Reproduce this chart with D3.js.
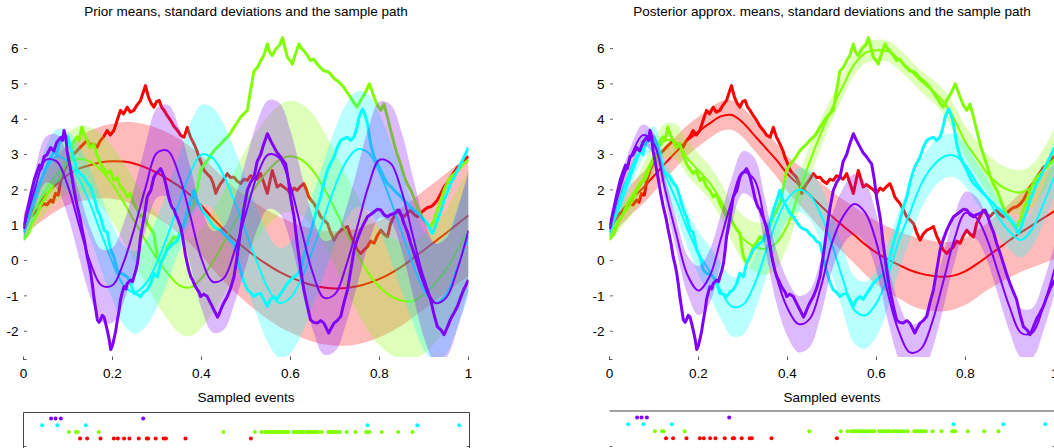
<!DOCTYPE html>
<html><head><meta charset="utf-8">
<script src="https://cdn.jsdelivr.net/npm/d3@7/dist/d3.min.js"></script>
<style>
body{margin:0;background:#fff;}
svg{display:block;}
text{font-family:"Liberation Sans",Arial,Helvetica,sans-serif;fill:#000;}
</style></head>
<body><svg id="chart" width="1054" height="448"></svg>
<script>
// ---------- DATA ----------
const seriesNames = ["red", "green", "cyan", "purple"];
const seriesColors = ["#FF0000", "#80FF00", "#00FFFF", "#8000FF"];
const titles = ["Prior means, standard deviations and the sample path",
                "Posterior approx. means, standard deviations and the sample path"];
const eventsTitle = "Sampled events";
const xTicks = [0, 0.2, 0.4, 0.6, 0.8, 1];
const xTickLabels = ["0", "0.2", "0.4", "0.6", "0.8", "1"];
const yTicks = [-2, -1, 0, 1, 2, 3, 4, 5, 6];
const yTickLabels = ["-2", "-1", "0", "1", "2", "3", "4", "5", "6"];

const gridX = [0,0.025,0.05,0.075,0.1,0.125,0.15,0.175,0.2,0.225,0.25,0.275,0.3,0.325,0.35,0.375,0.4,0.425,0.45,0.475,0.5,0.525,0.55,0.575,0.6,0.625,0.65,0.675,0.7,0.725,0.75,0.775,0.8,0.825,0.85,0.875,0.9,0.925,0.95,0.975,1];

const priorMeanRed = [1.0,1.47,1.85,2.18,2.43,2.6,2.7,2.78,2.81,2.8,2.74,2.63,2.48,2.3,2.1,1.85,1.55,1.2,0.88,0.58,0.32,0.08,-0.13,-0.32,-0.47,-0.6,-0.7,-0.76,-0.79,-0.78,-0.73,-0.64,-0.52,-0.36,-0.17,0.06,0.3,0.54,0.78,1.03,1.28];
const priorMeanGreen = [0.8,1.45,2.0,2.45,2.75,2.88,2.8,2.55,2.15,1.65,1.1,0.55,0.05,-0.38,-0.7,-0.76,-0.5,-0.05,0.5,1.1,1.65,2.15,2.55,2.85,2.95,2.85,2.55,2.05,1.45,0.8,0.2,-0.35,-0.75,-1.0,-1.13,-1.15,-0.95,-0.65,-0.25,0.3,0.86];
const priorMeanCyan = [0.8,1.7,2.55,2.95,2.8,2.3,1.6,0.75,-0.05,-0.7,-0.9,-0.65,-0.05,0.75,1.65,2.5,3.0,2.9,2.4,1.65,0.8,-0.05,-0.8,-1.2,-1.05,-0.5,0.3,1.2,2.1,2.8,3.15,3.05,2.5,1.7,0.8,-0.1,-0.85,-1.2,-0.95,-0.2,0.7];
const priorMeanPurple = [0.9,2.0,2.85,2.8,2.1,1.0,-0.05,-0.7,-0.7,-0.05,0.95,2.1,3.05,3.1,2.4,1.25,0.05,-0.6,-0.5,0.3,1.35,2.4,3.0,2.9,2.1,0.85,-0.35,-1.05,-0.95,-0.15,0.95,2.1,2.85,2.75,1.95,0.7,-0.5,-1.2,-1.05,-0.25,0.85];
const priorSd = [0.3,0.5,0.65,0.77,0.86,0.93,0.98,1.02,1.06,1.12,1.17,1.22,1.27,1.31,1.35,1.38,1.41,1.44,1.46,1.48,1.5,1.52,1.54,1.56,1.57,1.58,1.6,1.61,1.62,1.63,1.64,1.65,1.65,1.66,1.67,1.67,1.68,1.68,1.69,1.69,1.7];

const postMeanRed = [0.9,1.35,1.75,2.05,2.4,2.75,3.08,3.4,3.65,3.88,4.08,4.12,3.9,3.55,3.2,2.85,2.45,2.15,1.85,1.55,1.25,0.98,0.72,0.45,0.22,0.03,-0.12,-0.27,-0.37,-0.43,-0.46,-0.42,-0.3,-0.1,0.12,0.35,0.58,0.8,1.0,1.2,1.4];
const postSdRed = [0.25,0.35,0.43,0.45,0.45,0.45,0.44,0.43,0.42,0.42,0.42,0.42,0.42,0.43,0.45,0.47,0.5,0.55,0.6,0.65,0.7,0.75,0.8,0.85,0.9,0.93,0.95,0.98,1.0,0.99,0.98,0.96,0.95,0.95,0.95,1.0,1.05,1.12,1.2,1.28,1.35];
const postMeanGreen = [0.7,1.2,1.65,2.3,2.95,3.4,3.35,2.9,2.55,2.2,1.7,1.1,0.62,0.4,0.33,0.5,1.0,1.9,2.8,3.6,4.3,4.95,5.55,5.88,5.95,5.93,5.7,5.4,5.08,4.82,4.5,4.0,3.35,2.9,2.45,2.15,1.98,1.93,2.1,2.55,3.15];
const postSdGreen = [0.2,0.28,0.35,0.4,0.45,0.48,0.5,0.5,0.48,0.48,0.5,0.57,0.65,0.7,0.75,0.72,0.6,0.52,0.45,0.4,0.35,0.32,0.3,0.3,0.3,0.3,0.3,0.3,0.3,0.32,0.35,0.4,0.45,0.5,0.55,0.6,0.62,0.63,0.62,0.61,0.6];
const postMeanCyan = [0.8,1.6,2.45,3.2,3.45,2.45,1.7,0.9,0.2,-0.3,-0.85,-1.3,-1.25,-0.7,0.2,1.1,1.75,2.0,1.85,1.3,0.45,-0.55,-1.4,-1.55,-1.2,-0.45,0.55,1.35,2.15,2.65,2.93,2.97,2.7,2.2,1.75,1.2,0.8,0.58,0.9,1.6,2.4];
const postSdCyan = [0.2,0.25,0.3,0.33,0.35,0.4,0.45,0.52,0.6,0.7,0.8,0.85,0.85,0.8,0.75,0.68,0.6,0.62,0.7,0.78,0.85,0.9,0.95,0.95,0.95,0.9,0.85,0.78,0.7,0.65,0.62,0.61,0.6,0.58,0.55,0.52,0.5,0.5,0.5,0.55,0.6];
const postMeanPurple = [0.9,2.1,3.0,3.55,3.3,2.0,0.75,-0.4,-0.85,-0.45,0.6,1.7,2.5,2.3,1.0,-0.45,-1.35,-1.8,-1.65,-0.75,0.5,1.25,1.6,1.35,0.5,-0.9,-2.0,-2.6,-2.5,-1.75,-0.6,0.6,1.35,1.2,0.55,-0.4,-1.35,-2.05,-2.05,-1.3,-0.25];
const postSdPurple = [0.2,0.25,0.3,0.3,0.3,0.35,0.45,0.55,0.7,0.75,0.7,0.65,0.6,0.62,0.7,0.75,0.8,0.8,0.8,0.8,0.78,0.8,0.85,0.85,0.8,0.78,0.8,0.8,0.8,0.78,0.75,0.68,0.6,0.6,0.6,0.65,0.7,0.7,0.7,0.7,0.7];

// sample paths: [t, value]
const pathRed = [[0,1.0],[0.01,1.15],[0.02,1.3],[0.031,1.42],[0.04,1.55],[0.046,1.61],[0.053,1.58],[0.061,1.71],[0.066,1.65],[0.072,1.9],[0.078,1.85],[0.084,2.27],[0.091,2.55],[0.098,2.74],[0.105,2.85],[0.113,3.02],[0.12,3.1],[0.128,3.21],[0.135,3.3],[0.143,3.4],[0.15,3.25],[0.158,3.3],[0.165,3.2],[0.173,3.4],[0.18,3.5],[0.188,3.68],[0.195,3.55],[0.203,3.68],[0.21,3.95],[0.218,4.25],[0.225,4.15],[0.233,4.34],[0.24,4.2],[0.248,4.25],[0.255,4.4],[0.263,4.53],[0.27,4.8],[0.274,4.95],[0.281,4.62],[0.287,4.45],[0.293,4.34],[0.299,4.5],[0.305,4.53],[0.31,4.35],[0.316,4.25],[0.323,4.1],[0.331,3.96],[0.338,3.8],[0.346,3.68],[0.353,3.55],[0.361,3.49],[0.368,3.77],[0.375,3.5],[0.383,3.3],[0.39,3.1],[0.394,2.93],[0.4,2.75],[0.406,2.55],[0.413,2.45],[0.42,2.36],[0.426,2.2],[0.432,1.9],[0.437,2.05],[0.443,2.18],[0.45,2.3],[0.458,2.46],[0.465,2.35],[0.473,2.36],[0.48,2.25],[0.488,2.18],[0.495,2.3],[0.503,2.27],[0.51,2.4],[0.518,2.36],[0.525,2.3],[0.533,2.46],[0.54,2.2],[0.548,1.9],[0.553,2.2],[0.559,2.55],[0.565,2.3],[0.57,2.08],[0.578,2.15],[0.585,2.08],[0.593,2.0],[0.6,1.9],[0.608,2.05],[0.615,1.99],[0.623,2.1],[0.63,2.18],[0.636,2.0],[0.641,1.8],[0.647,1.7],[0.653,1.61],[0.66,1.45],[0.668,1.24],[0.675,1.15],[0.683,1.05],[0.69,0.8],[0.698,0.58],[0.705,0.75],[0.713,0.86],[0.72,0.9],[0.728,0.96],[0.735,0.7],[0.743,0.49],[0.75,0.3],[0.758,0.2],[0.765,0.3],[0.773,0.39],[0.78,0.55],[0.788,0.49],[0.795,0.7],[0.803,0.86],[0.81,0.75],[0.818,0.67],[0.825,1.05],[0.833,1.25],[0.84,1.43],[0.848,1.3],[0.855,1.24],[0.863,1.35],[0.87,1.43],[0.878,1.3],[0.885,1.24],[0.893,1.35],[0.9,1.43],[0.908,1.5],[0.915,1.52],[0.923,1.6],[0.93,1.71],[0.938,1.9],[0.945,2.08],[0.953,2.2],[0.96,2.36],[0.968,2.5],[0.975,2.64],[0.983,2.7],[0.99,2.83],[1.0,2.95]];
const pathGreen = [[0,0.6],[0.01,0.75],[0.02,1.1],[0.03,1.3],[0.04,1.6],[0.05,1.8],[0.06,2.0],[0.07,2.2],[0.08,2.3],[0.09,2.6],[0.1,2.9],[0.105,2.75],[0.11,3.3],[0.12,3.5],[0.125,3.4],[0.131,3.77],[0.137,3.55],[0.143,3.4],[0.15,3.2],[0.158,3.3],[0.165,3.0],[0.173,2.74],[0.18,2.6],[0.188,2.46],[0.195,2.55],[0.203,2.27],[0.21,2.35],[0.218,2.08],[0.225,2.0],[0.233,1.8],[0.24,1.9],[0.248,1.61],[0.255,1.45],[0.263,1.24],[0.27,1.3],[0.278,1.05],[0.285,0.9],[0.293,0.77],[0.297,0.4],[0.301,0.11],[0.308,-0.08],[0.316,0.1],[0.323,0.39],[0.33,0.5],[0.338,0.67],[0.345,0.6],[0.353,0.86],[0.36,1.0],[0.368,1.24],[0.375,1.4],[0.383,1.61],[0.391,2.08],[0.398,2.55],[0.405,2.7],[0.413,2.83],[0.42,2.95],[0.428,3.11],[0.435,3.2],[0.443,3.3],[0.45,3.4],[0.458,3.49],[0.465,3.6],[0.473,3.77],[0.48,3.9],[0.488,4.06],[0.495,4.15],[0.503,4.25],[0.51,4.8],[0.518,5.37],[0.525,5.45],[0.533,5.66],[0.54,5.8],[0.548,6.13],[0.553,5.9],[0.559,5.8],[0.565,5.95],[0.57,6.03],[0.576,6.1],[0.582,6.31],[0.588,6.0],[0.593,5.75],[0.6,5.65],[0.604,5.56],[0.61,5.8],[0.619,6.13],[0.625,6.0],[0.63,5.94],[0.638,5.8],[0.645,5.66],[0.652,5.7],[0.66,5.56],[0.668,5.45],[0.675,5.37],[0.683,5.35],[0.69,5.28],[0.698,5.15],[0.705,5.09],[0.713,5.0],[0.72,4.9],[0.728,4.75],[0.735,4.62],[0.743,4.45],[0.75,4.34],[0.756,4.5],[0.762,4.62],[0.77,4.8],[0.777,5.0],[0.783,4.8],[0.788,4.62],[0.795,4.4],[0.803,4.25],[0.81,4.43],[0.818,4.06],[0.823,3.8],[0.829,3.5],[0.835,3.2],[0.84,3.0],[0.848,2.7],[0.855,2.4],[0.863,2.15],[0.87,2.0],[0.878,1.75],[0.885,1.5],[0.893,1.3],[0.9,1.15],[0.908,1.0],[0.915,0.95],[0.923,1.15],[0.93,1.43],[0.938,1.7],[0.945,1.99],[0.953,2.2],[0.96,2.36],[0.968,2.45],[0.975,2.55],[0.983,2.65],[0.99,2.75],[1.0,2.85]];
const pathCyan = [[0,0.8],[0.01,1.2],[0.02,1.6],[0.03,2.0],[0.04,2.3],[0.05,2.6],[0.06,2.9],[0.07,3.1],[0.075,3.0],[0.08,3.3],[0.089,3.55],[0.095,3.4],[0.1,3.5],[0.105,3.21],[0.113,2.9],[0.121,2.55],[0.128,2.45],[0.136,2.36],[0.143,2.2],[0.151,2.08],[0.158,1.8],[0.166,1.43],[0.173,1.24],[0.181,0.86],[0.188,0.8],[0.196,0.3],[0.203,0.11],[0.211,-0.27],[0.218,-0.36],[0.226,-0.4],[0.233,-0.46],[0.24,-0.6],[0.248,-0.93],[0.255,-0.95],[0.263,-1.02],[0.27,-0.9],[0.278,-0.83],[0.286,-0.65],[0.293,-0.36],[0.301,-0.46],[0.308,-0.08],[0.315,0.1],[0.323,0.3],[0.33,0.4],[0.338,0.49],[0.345,0.55],[0.349,0.67],[0.355,0.8],[0.361,1.05],[0.368,1.4],[0.376,1.71],[0.383,1.99],[0.39,1.7],[0.398,1.52],[0.405,1.35],[0.413,1.24],[0.42,1.1],[0.428,0.96],[0.435,0.9],[0.443,0.86],[0.45,0.75],[0.458,0.67],[0.465,0.55],[0.473,0.49],[0.48,0.1],[0.488,-0.3],[0.495,-0.6],[0.503,-0.83],[0.51,-0.9],[0.518,-1.02],[0.525,-0.95],[0.533,-0.93],[0.54,-1.1],[0.548,-1.3],[0.555,-1.1],[0.563,-1.02],[0.57,-1.1],[0.578,-0.93],[0.585,-0.8],[0.593,-0.65],[0.6,-0.55],[0.608,-0.46],[0.615,-0.4],[0.623,-0.27],[0.63,0.1],[0.638,0.49],[0.645,0.8],[0.653,1.15],[0.66,1.5],[0.668,1.8],[0.675,2.2],[0.683,2.55],[0.69,2.75],[0.698,2.93],[0.705,3.2],[0.713,3.4],[0.72,3.45],[0.728,3.49],[0.735,3.4],[0.743,3.5],[0.75,3.8],[0.754,4.06],[0.762,4.29],[0.768,4.1],[0.773,3.87],[0.78,3.3],[0.788,2.93],[0.795,2.75],[0.803,2.55],[0.81,2.35],[0.818,2.18],[0.825,2.1],[0.833,1.99],[0.84,1.9],[0.848,1.8],[0.855,1.7],[0.863,1.61],[0.87,1.5],[0.878,1.43],[0.885,1.35],[0.893,1.24],[0.9,1.15],[0.908,1.05],[0.915,0.85],[0.919,0.77],[0.925,0.95],[0.93,1.15],[0.938,1.4],[0.945,1.71],[0.953,1.95],[0.96,2.18],[0.968,2.35],[0.975,2.55],[0.983,2.75],[0.99,2.93],[1.0,3.2]];
const pathPurple = [[0,0.9],[0.01,1.5],[0.017,1.9],[0.024,2.27],[0.03,2.5],[0.036,2.7],[0.04,2.6],[0.046,2.93],[0.053,3.0],[0.061,3.2],[0.068,3.1],[0.075,3.35],[0.084,3.49],[0.088,3.4],[0.091,3.68],[0.095,3.5],[0.098,3.1],[0.104,2.7],[0.11,2.27],[0.115,1.9],[0.121,1.52],[0.127,1.2],[0.132,0.86],[0.138,0.5],[0.143,0.11],[0.147,-0.1],[0.151,-0.35],[0.155,-0.7],[0.158,-1.02],[0.162,-1.35],[0.166,-1.68],[0.17,-1.75],[0.173,-1.68],[0.177,-1.55],[0.181,-1.6],[0.185,-1.8],[0.188,-1.96],[0.192,-2.2],[0.196,-2.52],[0.2,-2.4],[0.203,-2.24],[0.207,-2.0],[0.211,-1.68],[0.215,-1.4],[0.218,-1.11],[0.222,-0.9],[0.226,-0.74],[0.23,-0.8],[0.233,-0.65],[0.237,-0.6],[0.241,-0.55],[0.245,-0.6],[0.248,-0.46],[0.252,-0.3],[0.256,-0.08],[0.26,0.3],[0.263,0.67],[0.267,0.95],[0.271,1.24],[0.275,1.55],[0.278,1.8],[0.282,1.9],[0.286,1.98],[0.29,2.2],[0.293,2.36],[0.297,2.45],[0.301,2.5],[0.305,2.55],[0.308,2.6],[0.312,2.5],[0.316,2.36],[0.32,2.15],[0.323,1.99],[0.327,1.75],[0.331,1.6],[0.334,1.5],[0.338,1.45],[0.342,1.3],[0.346,1.2],[0.35,1.05],[0.353,0.96],[0.357,0.7],[0.361,0.39],[0.364,0.15],[0.368,-0.08],[0.372,-0.3],[0.376,-0.46],[0.38,-0.55],[0.383,-0.65],[0.387,-0.75],[0.391,-0.83],[0.395,-0.9],[0.398,-1.02],[0.405,-0.95],[0.413,-1.02],[0.42,-1.2],[0.428,-1.4],[0.432,-1.5],[0.436,-1.6],[0.44,-1.5],[0.443,-1.4],[0.45,-1.2],[0.458,-1.02],[0.465,-0.8],[0.473,-0.46],[0.48,0.1],[0.488,0.86],[0.495,1.45],[0.503,1.99],[0.51,2.2],[0.518,2.36],[0.525,2.8],[0.533,3.0],[0.54,3.3],[0.548,3.59],[0.555,3.4],[0.563,3.21],[0.57,3.05],[0.578,2.93],[0.585,2.8],[0.589,2.74],[0.595,2.3],[0.6,1.8],[0.608,1.24],[0.615,0.49],[0.623,-0.27],[0.63,-0.83],[0.638,-1.3],[0.645,-1.68],[0.652,-1.75],[0.66,-1.77],[0.668,-1.7],[0.675,-1.77],[0.68,-1.9],[0.686,-2.05],[0.692,-1.9],[0.698,-1.77],[0.705,-1.7],[0.713,-1.58],[0.72,-1.2],[0.728,-0.83],[0.735,-0.3],[0.743,0.3],[0.75,0.6],[0.758,0.86],[0.765,1.05],[0.773,1.24],[0.78,1.3],[0.788,1.38],[0.795,1.45],[0.803,1.43],[0.81,1.3],[0.818,1.24],[0.825,1.3],[0.833,1.33],[0.84,1.4],[0.844,1.43],[0.85,1.25],[0.855,1.05],[0.863,0.8],[0.87,0.49],[0.878,0.2],[0.885,-0.08],[0.893,-0.4],[0.9,-0.65],[0.908,-0.9],[0.915,-1.11],[0.922,-1.5],[0.93,-1.87],[0.938,-1.96],[0.945,-2.1],[0.952,-1.9],[0.96,-1.65],[0.967,-1.49],[0.975,-1.3],[0.983,-1.02],[0.99,-0.8],[1.0,-0.55]];

// sampled event times per series
const eventsPurple = [0.062,0.072,0.084,0.269];
const eventsCyan = [0.042,0.076,0.140,0.773,0.885,0.979];
const eventsGreen = [0.102,0.118,0.122,0.169,0.449,0.520,0.535,0.543,0.547,0.551,0.555,0.559,0.563,0.566,0.570,0.574,0.578,0.582,0.586,0.590,0.595,0.606,0.610,0.614,0.618,0.622,0.626,0.629,0.636,0.640,0.644,0.648,0.652,0.656,0.662,0.670,0.685,0.689,0.693,0.697,0.701,0.705,0.711,0.726,0.746,0.770,0.773,0.777,0.805,0.842,0.874];
const eventsRed = [0.127,0.143,0.173,0.203,0.212,0.226,0.238,0.259,0.277,0.280,0.297,0.315,0.320,0.364,0.511];

// ---------- DRAWING ----------
const svg = d3.select("#chart");
const plotW = 445, plotTop = 33, plotBottom = 357;
const fontSize = 13.5;
const paths = [pathRed, pathGreen, pathCyan, pathPurple];
const eventSets = [eventsPurple, eventsCyan, eventsGreen, eventsRed];
const eventColors = ["#8000FF", "#00FFFF", "#80FF00", "#FF0000"];

const panels = [
  {x0: 23.5, title: titles[0],
   means: [priorMeanRed, priorMeanGreen, priorMeanCyan, priorMeanPurple],
   sds: [priorSd, priorSd, priorSd, priorSd],
   evTop: 412.5, evSides: true, rowA: 418.6, rowB: 438.6},
  {x0: 609.5, title: titles[1],
   means: [postMeanRed, postMeanGreen, postMeanCyan, postMeanPurple],
   sds: [postSdRed, postSdGreen, postSdCyan, postSdPurple],
   evTop: 411, evSides: false, rowA: 417.4, rowB: 438.3}
];

const y = d3.scaleLinear().domain([-2.73, 6.44]).range([plotBottom, plotTop]);

panels.forEach((p, pi) => {
  const x = d3.scaleLinear().domain([0, 1]).range([p.x0, p.x0 + plotW]);
  const g = svg.append("g");
  const clipId = "clip" + pi;
  svg.append("defs").append("clipPath").attr("id", clipId)
    .append("rect").attr("x", p.x0).attr("y", plotTop - 5)
    .attr("width", plotW).attr("height", plotBottom - plotTop + 5);

  const plot = g.append("g").attr("clip-path", `url(#${clipId})`);
  seriesNames.forEach((name, si) => {
    const mean = p.means[si], sd = p.sds[si];
    const rows = gridX.map((t, i) => ({t, m: mean[i], s: sd[i]}));
    const area = d3.area().curve(d3.curveCatmullRom.alpha(0.5))
      .x(d => x(d.t)).y0(d => y(d.m - d.s)).y1(d => y(d.m + d.s));
    const line = d3.line().curve(d3.curveCatmullRom.alpha(0.5))
      .x(d => x(d.t)).y(d => y(d.m));
    plot.append("path").attr("d", area(rows))
      .attr("fill", seriesColors[si]).attr("fill-opacity", 0.27).attr("stroke", "none");
    plot.append("path").attr("d", line(rows))
      .attr("fill", "none").attr("stroke", seriesColors[si]).attr("stroke-width", 2);
    const pline = d3.line().x(d => x(d[0])).y(d => y(d[1]));
    plot.append("path").attr("d", pline(paths[si]))
      .attr("fill", "none").attr("stroke", seriesColors[si])
      .attr("stroke-width", 3).attr("stroke-linejoin", "round");
  });

  // title
  g.append("text").attr("x", p.x0 + plotW / 2).attr("y", 15.5)
    .attr("text-anchor", "middle").attr("font-size", fontSize).text(p.title);

  // y axis
  const ya = g.append("g");
  yTicks.forEach((v, i) => {
    ya.append("line").attr("x1", p.x0 + 0.5).attr("x2", p.x0 + 3.5)
      .attr("y1", y(v)).attr("y2", y(v)).attr("stroke", "#666").attr("stroke-width", 1);
    ya.append("text").attr("x", p.x0 - 5).attr("y", y(v) + 4.7)
      .attr("text-anchor", "end").attr("font-size", fontSize).text(yTickLabels[i]);
  });
  // x axis
  const xa = g.append("g");
  xTicks.forEach((v, i) => {
    xa.append("line").attr("x1", x(v)).attr("x2", x(v))
      .attr("y1", 356.5).attr("y2", 360).attr("stroke", "#555").attr("stroke-width", 1);
    xa.append("text").attr("x", x(v)).attr("y", 377.5)
      .attr("text-anchor", "middle").attr("font-size", fontSize).text(xTickLabels[i]);
  });
  xa.append("line").attr("x1", x(0)).attr("x2", x(0) + 3)
    .attr("y1", 359.5).attr("y2", 359.5).attr("stroke", "#555");

  // events panel
  g.append("text").attr("x", p.x0 + plotW / 2).attr("y", 402)
    .attr("text-anchor", "middle").attr("font-size", fontSize).text(eventsTitle);
  const ev = g.append("g");
  ev.append("line").attr("x1", p.x0).attr("x2", p.x0 + plotW + 1)
    .attr("y1", p.evTop).attr("y2", p.evTop).attr("stroke", "#444").attr("stroke-width", 1);
  if (p.evSides) {
    [p.x0, p.x0 + plotW + 1].forEach(xx => {
      ev.append("line").attr("x1", xx).attr("x2", xx)
        .attr("y1", p.evTop).attr("y2", 448).attr("stroke", "#444").attr("stroke-width", 1);
    });
  }
  [[p.x0, p.x0 + 3], [p.x0 + plotW - 2, p.x0 + plotW + 1]].forEach(([a, b]) => {
    ev.append("line").attr("x1", a).attr("x2", b).attr("y1", 446.5).attr("y2", 446.5)
      .attr("stroke", "#666");
  });
  const rowKeys = ["purple", "cyan", "green", "red"];
  const rowY = d3.scalePoint().domain(rowKeys).range([p.rowA, p.rowB]);
  eventSets.forEach((set, ri) => {
    ev.selectAll(null).data(set).enter().append("circle")
      .attr("cx", d => x(d)).attr("cy", rowY(rowKeys[ri])).attr("r", 2)
      .attr("fill", eventColors[ri]);
  });
});
</script>
</body></html>
